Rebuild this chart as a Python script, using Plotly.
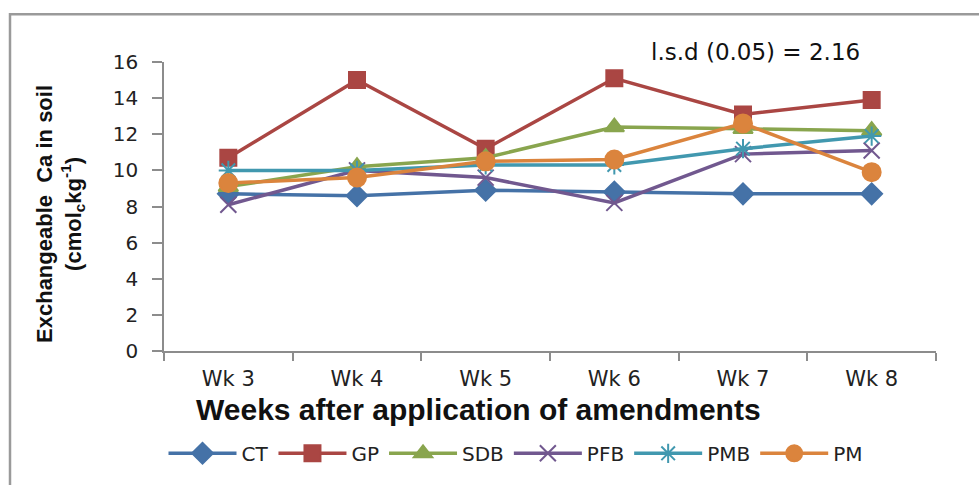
import plotly.graph_objects as go

weeks = ["Wk 3", "Wk 4", "Wk 5", "Wk 6", "Wk 7", "Wk 8"]
ct = [8.7, 8.6, 8.9, 8.8, 8.7, 8.7]
gp = [10.7, 15.0, 11.2, 15.1, 13.1, 13.9]
sdb = [9.1, 10.2, 10.7, 12.4, 12.3, 12.2]
pfb = [8.1, 10.0, 9.6, 8.2, 10.9, 11.1]
pmb = [10.0, 10.0, 10.3, 10.3, 11.2, 11.9]
pm = [9.3, 9.6, 10.5, 10.6, 12.6, 9.9]

series = [
    ("CT", ct, "#4572A7", "diamond", 16),
    ("GP", gp, "#AA4643", "square", 16),
    ("SDB", sdb, "#89A54E", "triangle-up", 17),
    ("PFB", pfb, "#71588F", "x-thin-open", 16),
    ("PMB", pmb, "#4198AF", "asterisk-open", 16),
    ("PM", pm, "#DB843D", "circle", 18),
]

W, H = 979, 485
L, R, T, B = 164, 43, 62, 132
pw, ph = W - L - R, H - T - B

def px(x):
    return (x - L) / pw

def py(y):
    return (H - B - y) / ph

TF = "DejaVu Sans, Verdana, sans-serif"

fig = go.Figure()
for name, vals, col, sym, sz in series:
    fig.add_trace(go.Scatter(
        x=weeks, y=vals, name=name, mode="lines+markers",
        line=dict(color=col, width=3.5),
        marker=dict(symbol=sym, size=sz, color=col,
                    line=dict(color=col, width=2)),
    ))

fig.update_layout(
    width=W, height=H,
    margin=dict(l=L, r=R, t=T, b=B),
    paper_bgcolor="white", plot_bgcolor="white",
    showlegend=True,
    legend=dict(orientation="h", x=px(516), xanchor="center",
                y=py(456), yanchor="middle",
                font=dict(family=TF, size=20, color="#222"),
                itemwidth=68, tracegroupgap=0),
    xaxis=dict(
        type="category", showgrid=False, zeroline=False,
        showline=True, linecolor="#8c8c8c", linewidth=1.5,
        ticks="outside", tickson="boundaries", ticklen=8,
        tickcolor="#8c8c8c", tickwidth=1.5,
        tickfont=dict(family=TF, size=21, color="#222"),
        ticklabelstandoff=8,
        range=[-0.5, 5.5],
    ),
    yaxis=dict(
        range=[0, 16], dtick=2, showgrid=False, zeroline=False,
        showline=True, linecolor="#8c8c8c", linewidth=1.5,
        ticks="outside", ticklen=10, tickcolor="#8c8c8c", tickwidth=1.5,
        tickfont=dict(family=TF, size=20, color="#222"),
        ticklabelstandoff=10,
    ),
    annotations=[
        dict(text="l.s.d (0.05) = 2.16", xref="paper", yref="paper",
             x=px(755), y=py(52), xanchor="center", yanchor="middle",
             showarrow=False,
             font=dict(family=TF, size=23, color="#111")),
        dict(text="<b>Weeks after application of amendments</b>", xref="paper", yref="paper",
             x=px(478), y=py(412), xanchor="center", yanchor="middle",
             showarrow=False,
             font=dict(family="Liberation Sans, Arial, sans-serif", size=30, color="#111")),
        dict(text="<b>Exchangeable  Ca in soil<br>(cmol<sub>c</sub>kg<sup>-1</sup>)</b>",
             xref="paper", yref="paper",
             x=px(60), y=py(215), xanchor="center", yanchor="middle",
             textangle=-90, showarrow=False,
             font=dict(family="Liberation Sans, Arial, sans-serif", size=22, color="#111")),
    ],
    shapes=[
        dict(type="rect", xref="paper", yref="paper",
             x0=px(10), x1=px(1000), y0=py(500), y1=py(14),
             line=dict(color="#9a9a9a", width=2.5), fillcolor="rgba(0,0,0,0)",
             layer="below"),
    ],
)

fig.write_html("out.html")
